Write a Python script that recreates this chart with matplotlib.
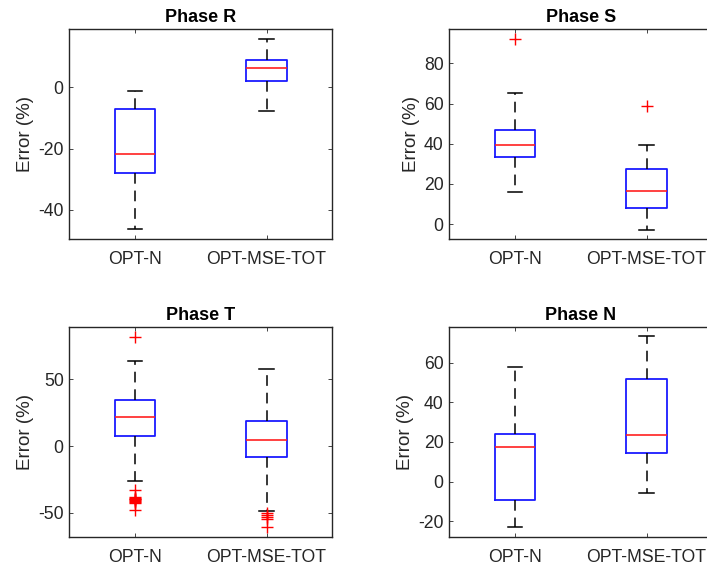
import matplotlib
matplotlib.use("Agg")
import matplotlib.pyplot as plt

plt.rcParams['font.family'] = ['Liberation Sans', 'DejaVu Sans']
plt.rcParams['axes.unicode_minus'] = False

categories = ["OPT-N", "OPT-MSE-TOT"]
titles = ["Phase R", "Phase S", "Phase T", "Phase N"]

# per phase: [OPT-N, OPT-MSE-TOT] -> (whislo, q1, med, q3, whishi)
phase_R = [(-46.3, -28.1, -21.8, -7.2, -1.1), (-7.7, 2.1, 6.4, 9.1, 15.9)]
phase_S = [(16.1, 33.4, 39.2, 47.1, 65.1), (-2.8, 8.0, 16.3, 27.4, 39.5)]
phase_T = [(-26.3, 7.75, 21.75, 34.25, 64.0), (-49.0, -8.0, 4.5, 19.0, 57.5)]
phase_N = [(-23.1, -9.1, 17.5, 23.9, 57.6), (-5.6, 14.3, 23.7, 51.9, 73.4)]

outliers_R = [[], []]
outliers_S = [[92.2], [58.7]]
outliers_T = [[82.0, -33.0, -38.0, -38.7, -39.4, -40.0, -40.7, -41.4, -42.0, -42.7, -48.0],
              [-50.5, -52.0, -53.5, -55.0, -61.0]]
outliers_N = [[], []]

ylims = [(-49.5, 19.0), (-7.3, 97.0), (-68.0, 89.0), (-27.8, 77.8)]
yticks = [[-40, -20, 0], [0, 20, 40, 60, 80], [-50, 0, 50], [-20, 0, 20, 40, 60]]

data = [phase_R, phase_S, phase_T, phase_N]
outs = [outliers_R, outliers_S, outliers_T, outliers_N]

W, H = 707, 570
fig = plt.figure(figsize=(W / 100, H / 100), dpi=100)

# axes rectangles in pixels: left, top, width, height
rects = [(69.3, 29.3, 263, 209.5), (449.3, 29.3, 263, 209.5),
         (69.3, 327.3, 263, 209.4), (449.3, 327.3, 263, 209.4)]

dark = '#262626'
for i in range(4):
    l, t, w, h = rects[i]
    ax = fig.add_axes([l / W, 1 - (t + h) / H, w / W, h / H])
    stats = []
    for j, (lo, q1, med, q3, hi) in enumerate(data[i]):
        stats.append(dict(whislo=lo, q1=q1, med=med, q3=q3, whishi=hi,
                          fliers=outs[i][j], label=categories[j]))
    ax.bxp(stats, positions=[1, 2], widths=0.31, capwidths=0.11,
           showfliers=True,
           boxprops=dict(color='#1a1aff', linewidth=1.3),
           medianprops=dict(color='#ff2020', linewidth=1.2),
           whiskerprops=dict(color='black', linewidth=1.1, linestyle=(0, (7, 4.5))),
           capprops=dict(color='black', linewidth=1.1),
           flierprops=dict(marker='+', markeredgecolor='#ff0000', markersize=9,
                           markeredgewidth=1.0, linestyle='none'))
    ax.set_xlim(0.5, 2.5)
    ax.set_ylim(*ylims[i])
    ax.set_yticks(yticks[i])
    ax.set_xticks([1, 2])
    ax.set_xticklabels(categories)
    ax.tick_params(direction='in', length=3, width=0.6, colors=dark,
                   labelsize=12.7, top=True, right=True, pad=4)
    ax.tick_params(axis='x', pad=9)
    for sp in ax.spines.values():
        sp.set_color(dark)
        sp.set_linewidth(1.0)
    ax.set_title(titles[i], fontsize=13, fontweight='bold', color='black', pad=5)
    ax.set_ylabel('Error (%)', fontsize=13.5, color=dark, labelpad=3)

fig.savefig('out.png', dpi=100)
